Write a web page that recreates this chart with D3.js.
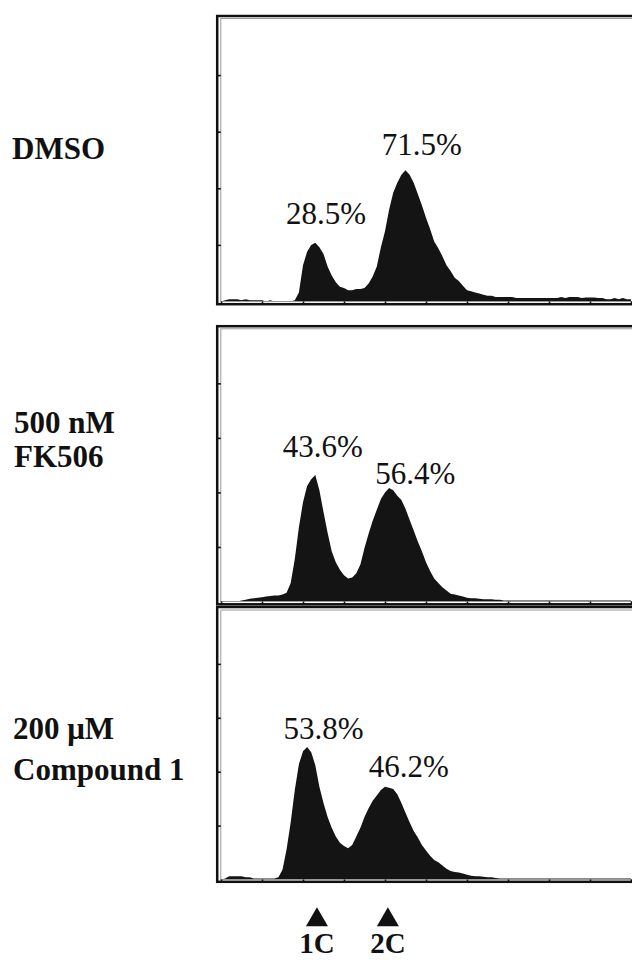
<!DOCTYPE html>
<html><head><meta charset="utf-8">
<script src="https://cdn.jsdelivr.net/npm/d3@7"></script>
<style>html,body{margin:0;padding:0;background:#fff;} svg{display:block}</style>
</head><body><svg id="c" width="632" height="960"></svg>
<script>
// ---------- DATA ----------
const channels = [0,10,20,30,40,50,60,70,80,90,100,110,120,130,140,150,160,170,180,190,200,210,220,230,240,250,260,270,280,290,300,310,320,330,340,350,360,370,380,390,400,410,420,430,440,450,460,470,480,490,500,510,520,530,540,550,560,570,580,590,600,610,620,630,640,650,660,670,680,690,700,710,720,730,740,750,760,770,780,790,800,810,820,830,840,850,860,870,880,890,900,910,920,930,940,950,960,970,980,990,1000];
const dmsoCounts = [0,1,2,2,2,1,2,1,1,1, 1,0,1,0,0,0,0,0,1,8, 32,44,50,52,48,42,31,23,17,13, 12,10,10,11,11,12,16,22,31,48, 62,81,96,105,112,116,112,105,95,85, 74,64,53,47,40,32,27,21,18,14, 10,9,8,7,6,5,5,4,4,4, 4,4,3,3,3,3,3,3,3,3, 3,3,3,4,3,4,4,4,3,3.5, 3.5,3.5,3,3,2,2,3,2,3,2, 2];
const fk506Counts = [0,0,0,0,0,1,1.5,2.5,3,3.5, 4,4.5,5,5.5,5.5,6.5,8,17,39,68, 91,106,112,116,102,82,63,46,36,29, 24,21,22,26,34,49,62,74,84,94, 100,104,102,97,93,85,75,65,55,46, 36,28,21,17,13,10,7,6.5,5.5,4.5, 3.5,3,3,2.5,2,2,2,1.5,1.5,1, 1,1,1,1,1,1,1,1,1,1, 1,1,1,1,1,1,1,1,1,1, 1,1,1,1,1,1,1,1,1,1, 1];
const compound1Counts = [0,1,3,3,3,3,2,2,1,1, 1,1,1,1,2,9,28,53,83,107, 119,123,118,106,86,71,58,48,40,34, 31,29,32,40,48,58,66,73,78,83, 86,85,84,79,71,62,53,45,39,32, 27,22,18,16,13,10,8,7,6.5,5.5, 4.5,3.5,3,3,2.5,2,2,1.5,1,1, 1,1,1,1,1,1,1,1,1,1, 1,1,1,1,1,1,1,1,1,1, 1,1,1,1,1,1,1,1,1,1, 1];
const conditionLabels = [["DMSO"], ["500 nM", "FK506"], ["200 \u03BCM", "Compound 1"]];
const pct1C = ["28.5%", "43.6%", "53.8%"];
const pct2C = ["71.5%", "56.4%", "46.2%"];
const xTickValues = [0,100,200,300,400,500,600,700,800,900,1000];
const yTickValues = [50,100,150,200];
const markerChannels = [234, 407];
const markerLabels = ["1C", "2C"];

// ---------- LAYOUT ----------
const series = [dmsoCounts, fk506Counts, compound1Counts];
const panels = [
  {inTop: 18.5, inBot: 301.5, outTop: 16, outBot: 304.2,
   cond: {x: 12, ys: [159]}, l1: [256, 68.5], l2: [490, 129]},
  {inTop: 328.8, inBot: 601.5, outTop: 326.2, outBot: 604.3,
   cond: {x: 14, ys: [433, 467]}, l1: [248, 132.5], l2: [474, 107.7]},
  {inTop: 610, inBot: 879.5, outTop: 607, outBot: 881.8,
   cond: {x: 13, ys: [739, 780]}, l1: [250, 129.9], l2: [458, 94.7]}
];
const serif = "'Liberation Serif','Times New Roman',Times,serif";
const svg = d3.select("#c");
const x = d3.scaleLinear().domain([0, 1000]).range([221, 631]);

panels.forEach((p, k) => {
  const y = d3.scaleLinear().domain([0, 250]).range([p.inBot, p.inTop]);
  const g = svg.append("g");
  const clipId = "clip" + k;
  svg.append("clipPath").attr("id", clipId).append("rect")
    .attr("x", 221).attr("y", p.inTop).attr("width", 420).attr("height", p.inBot - p.inTop);

  // histogram
  const data = channels.map((c, i) => ({c, v: series[k][i]}));
  const area = d3.area().x(d => x(d.c)).y0(y(0)).y1(d => y(d.v)).curve(d3.curveLinear);
  g.append("path").attr("d", area(data)).attr("fill", "#141414")
    .attr("clip-path", `url(#${clipId})`);

  // inner frame (light)
  g.append("rect").attr("x", 220.8).attr("y", p.inTop).attr("width", 440).attr("height", p.inBot - p.inTop)
    .attr("fill", "none").attr("stroke", "#9a9a9a").attr("stroke-width", 1);

  // outer frame
  g.append("rect").attr("x", 217.2).attr("y", p.outTop).attr("width", 460).attr("height", p.outBot - p.outTop)
    .attr("fill", "none").attr("stroke", "#111").attr("stroke-width", 2.5);

  // x ticks
  g.append("g").attr("transform", `translate(0,${p.inBot})`)
    .call(d3.axisBottom(x).tickValues(xTickValues).tickSize(2.5).tickFormat(""))
    .call(s => s.select(".domain").remove())
    .call(s => s.selectAll("line").attr("stroke", "#111").attr("stroke-width", 1.6));
  // y ticks
  g.append("g").attr("transform", `translate(220.8,0)`)
    .call(d3.axisLeft(y).tickValues(yTickValues).tickSize(3.5).tickFormat(""))
    .call(s => s.select(".domain").remove())
    .call(s => s.selectAll("line").attr("stroke", "#111").attr("stroke-width", 1.6));

  // percentage labels
  [[pct1C[k], p.l1], [pct2C[k], p.l2]].forEach(([t, pos]) => {
    g.append("text").attr("x", x(pos[0])).attr("y", y(pos[1]))
      .attr("text-anchor", "middle").attr("font-family", serif).attr("font-size", 31)
      .attr("fill", "#111").text(t);
  });

  // condition labels
  conditionLabels[k].forEach((t, j) => {
    svg.append("text").attr("x", p.cond.x).attr("y", p.cond.ys[j])
      .attr("font-family", serif).attr("font-weight", "bold").attr("font-size", 31)
      .attr("fill", "#111").text(t);
  });
});

// 1C / 2C markers
const tri = d3.symbol().type(d3.symbolTriangle).size(210);
markerChannels.forEach((c, i) => {
  svg.append("path").attr("d", tri()).attr("transform", `translate(${x(c)},920)`).attr("fill", "#111");
  svg.append("text").attr("x", x(c)).attr("y", 953).attr("text-anchor", "middle")
    .attr("font-family", serif).attr("font-weight", "bold").attr("font-size", 29)
    .attr("fill", "#111").text(markerLabels[i]);
});
</script></body></html>
